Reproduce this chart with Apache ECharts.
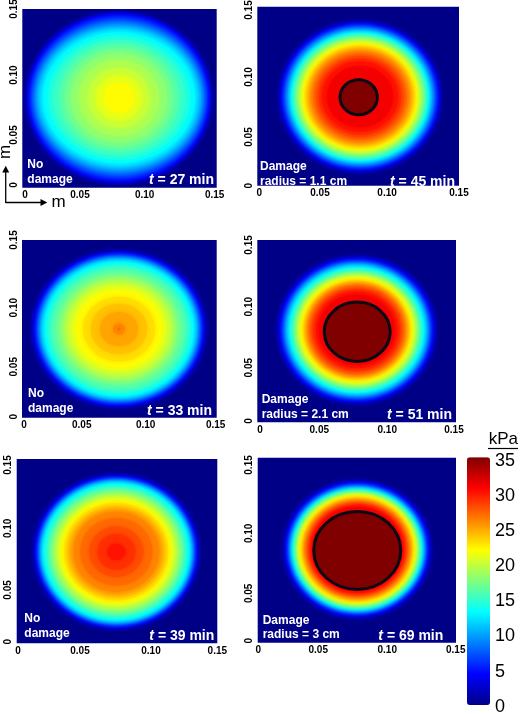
<!DOCTYPE html>
<html><head><meta charset="utf-8"><style>html,body{margin:0;padding:0;background:#fff}#c{width:520px;height:714px}</style>
<script src="https://cdn.jsdelivr.net/npm/echarts@6/dist/echarts.min.js"></script></head>
<body><div id="c"></div>
<script>
// Contour half-widths/half-heights in mm; entry i is the contour of (i+1) kPa.
const rx1=[71.8,71,70.3,69.5,68.7,67.9,66.8,65.6,64.5,63.3,62.1,60.2,58.7,54.8,51,46.3,41.7,37.1,30.9,23.9,17.8,11.6];
const ry1=[72.2,71.4,70.6,69.7,68.9,67.2,65.5,63.8,62.2,60.5,58.8,57.1,55,52.1,48.7,45.4,41.6,37.4,31.9,25.2,18.9,12.6];
const rx2=[61,59.9,58.7,58,57.2,56.5,55.8,55,53.9,53.2,52.4,51.7,50.9,49.8,49.1,48.3,47.2,46.1,45,43.9,43.1,42,40.9,39.4,37.9,36.4,34.6,32.7,30.5,28.3,24.5];
const ry2=[63.9,62.8,61.6,60.8,60,59.2,58.5,57.7,56.5,55.7,55,54.2,53.4,52.2,51.4,50.7,49.5,48.3,47.2,46,45.2,44,42.9,41.3,39.8,38.2,36.2,34.3,32,29.6,25.7];
const rx3=[67.8,66.6,65.5,64.7,63.9,63.2,62.4,61.6,60.9,60.1,59.3,58.4,57.4,55.5,53.5,51.2,47.8,44.7,42.4,39.7,36.6,33.1,27.7,21.6,14.6,4.6,1.2];
const ry3=[66.8,65.7,64.6,63.8,63,62.3,61.5,60.8,60,59.2,58.5,57.6,56.6,54.7,52.8,50.5,47.1,44.1,41.8,39.1,36.1,32.7,27.3,21.3,14.4,4.7,1.2];
const rx4=[60.4,59.2,58.5,57.4,56.6,55.8,55.1,54.3,53.6,52.8,52.1,51.3,50.6,49.4,48.3,47.5,46.4,45.3,44.5,43.8,42.6,41.5,40.4,39.2,38.1,37,35.8,34.3,32.8,30.9,28.7];
const ry4=[61.2,60.1,59.3,58.2,57.4,56.6,55.9,55.1,54.3,53.6,52.8,52,51.3,50.1,49,48.2,47.1,45.9,45.2,44.4,43.2,42.1,40.9,39.8,38.7,37.5,36.4,34.8,33.3,31.4,29.1];
const rx5=[62.5,61.3,60.6,59.8,59.1,58.5,57.9,57.3,56.7,56.1,55.7,55,54.4,53.1,51.6,50.1,49,47.5,45.6,44.1,42.6,40.8,38.9,36.7,34.4,32.2,26.9,20.2,14.2,6.7];
const ry5=[63.5,62.4,61.6,60.9,60.1,59.5,58.9,58.3,57.7,57.1,56.6,56,55.3,54,52.5,51,49.8,48.3,46.4,44.9,43.4,41.5,39.6,37.3,35,32.7,27.4,20.5,14.5,6.8];
const rx6=[56.4,55.2,54.5,53.7,52.9,52.2,51.4,50.9,50.4,49.9,49.5,48.9,48.4,47.8,47.3,46.5,46,45.4,44.8,44.2,43.6,43.1,42.2,41.3,40.4,39.3,38.4,37.4,36.3,35.3,34.4];
const ry6=[56.2,55.1,54.3,53.6,52.8,52,51.3,50.8,50.2,49.8,49.3,48.8,48.3,47.7,47.1,46.4,45.9,45.3,44.7,44.1,43.5,43,42.1,41.2,40.3,39.2,38.2,37.3,36.2,35.2,34.3];
const contourCentres=[[74.6,75.4],[76.4,74.6],[74.7,74.9],[75.0,76.0],[74.5,74.5],[75.3,75.8]];
const damageEllipses=[null,[75.4,74.1,13.9,14.7],null,[75.4,74.5,24.9,24.4],null,[75.3,74.8,32.9,31.6]];
const damageKPa=35;
const tickLabels=['0','0.05','0.10','0.15'];
const colorbarTicks=[0,5,10,15,20,25,30,35];
const times=['27','45','33','51','39','69'];
const notes=[['No','damage'],['Damage','radius = 1.1 cm'],['No','damage'],['Damage','radius = 2.1 cm'],['No','damage'],['Damage','radius = 3 cm']];
const xLabelSpots=[[.0021,.0445,.0944,.1484],[.0015,.0466,.0965,.15],[.0015,.046,.0953,.1492],[.002,.0468,.0981,.1485],[.001,.0473,.1004,.15],[.0005,.0458,.098,.1498]];
const yLabelSpots=[[.0023,.0442,.0945,.15],[0,.0408,.0911,.1472],[.0008,.043,.0929,.15],[.0011,.0449,.0951,.1459],[.0013,.0434,.0936,.1451],[.0016,.04,.0887,.1441]];
const jet=['#000087','#0000ff','#007fff','#00ffff','#7fff7f','#ffff00','#ff7f00','#ff0000','#800000'];

const rxs=[rx1,rx2,rx3,rx4,rx5,rx6], rys=[ry1,ry2,ry3,ry4,ry5,ry6];
// left, top, width, height of each panel
const boxes=[[22.3,9,194.4,178.7],[257.3,6.7,201.7,179],[22,240,194.7,177.7],[257.3,240,198.7,182.3],[16.7,459,200.6,184.3],[257.7,457.7,198.3,185]];
// note x, note y1, note y2, t right, t y
const noteAt=[[27.3,165,180,214,180],[260,167,182,455,182],[28,394,409,212,410.7],[261.7,400,415,452,415],[24.3,619,634,214.3,635.7],[262.7,620.7,634.7,443.3,635.7]];
const FF='"Liberation Sans",Arial,sans-serif';

const grid=[],xAxis=[],yAxis=[],series=[],graphic=[];
boxes.forEach((b,i)=>{
  grid.push({left:b[0],top:b[1],width:b[2],height:b[3],show:true,backgroundColor:jet[0],borderWidth:0,outerBoundsMode:'none'});
  const lab=(spots)=>({show:true,color:'#000',fontFamily:FF,fontWeight:'bold',fontSize:10,
    formatter:(v)=>tickLabels[spots.indexOf(v)]});
  xAxis.push({type:'value',gridIndex:i,min:0,max:.15,splitLine:{show:false},axisLine:{show:false},axisTick:{show:false},
    axisLabel:Object.assign(lab(xLabelSpots[i]),{margin:3,customValues:xLabelSpots[i]})});
  yAxis.push({type:'value',gridIndex:i,min:0,max:.15,splitLine:{show:false},axisLine:{show:false},axisTick:{show:false},
    axisLabel:Object.assign(lab(yLabelSpots[i]),{rotate:90,margin:3,customValues:yLabelSpots[i]})});
  const [cx,cy]=contourCentres[i];
  const rings=rxs[i].map((r,k)=>[cx/1000,cy/1000,r/1000,rys[i][k]/1000,k+1]);
  const render=(stroke)=>function(p,api){
    const c=api.coord([api.value(0),api.value(1)]);
    const s=api.size([api.value(2),api.value(3)],[api.value(0),api.value(1)]);
    const col=api.visual('color');
    return {type:'ellipse',shape:{cx:c[0],cy:c[1],rx:s[0],ry:s[1]},
      style:stroke?{fill:col,stroke:'#0a0a14',lineWidth:3}:{fill:col,shadowColor:col,shadowBlur:4}};
  };
  const dims=['x','y','rx','ry','kPa'];
  series.push({type:'custom',xAxisIndex:i,yAxisIndex:i,dimensions:dims,encode:{x:0,y:1},data:rings,renderItem:render(false),clip:true,silent:true,animation:false,progressive:0});
  if(damageEllipses[i]){
    const d=damageEllipses[i];
    series.push({type:'custom',xAxisIndex:i,yAxisIndex:i,dimensions:dims,encode:{x:0,y:1},z:3,
      data:[[d[0]/1000,d[1]/1000,d[2]/1000,d[3]/1000,damageKPa]],renderItem:render(true),silent:true,animation:false});
  }
  const n=noteAt[i];
  const txt=(t,x,y,align)=>({type:'text',z:10,silent:true,style:{text:t,x:x,y:y,align:align,verticalAlign:'middle',fill:'#fff',font:'bold 12px '+FF}});
  graphic.push(txt(notes[i][0],n[0],n[1],'left'));
  graphic.push(txt(notes[i][1],n[0],n[2],'left'));
  graphic.push({type:'text',z:10,silent:true,style:{text:'{i|t}{b| = '+times[i]+' min}',x:n[3],y:n[4],align:'right',verticalAlign:'middle',fill:'#fff',
    rich:{i:{fill:'#fff',font:'italic bold 14px '+FF},b:{fill:'#fff',font:'bold 14px '+FF}}}});
});
// colour bar scale
grid.push({left:467,top:460.7,width:23,height:246,show:false,outerBoundsMode:'none'});
xAxis.push({type:'value',gridIndex:6,show:false,min:0,max:1});
yAxis.push({type:'value',gridIndex:6,position:'right',min:0,max:35,interval:5,splitLine:{show:false},axisLine:{show:false},axisTick:{show:false},
  axisLabel:{show:true,margin:5,color:'#000',fontFamily:FF,fontSize:18,customValues:colorbarTicks}});
// compass and unit
const blk={stroke:'#000',lineWidth:1.3};
graphic.push({type:'line',silent:true,shape:{x1:5.7,y1:203,x2:5.7,y2:170},style:blk});
graphic.push({type:'polygon',silent:true,shape:{points:[[5.7,165.7],[2.2,172.5],[9.2,172.5]]},style:{fill:'#000'}});
graphic.push({type:'line',silent:true,shape:{x1:5.7,y1:202.5,x2:43,y2:202.5},style:blk});
graphic.push({type:'polygon',silent:true,shape:{points:[[47.3,202.5],[40.5,199],[40.5,206]]},style:{fill:'#000'}});
graphic.push({type:'text',silent:true,x:5,y:152,rotation:Math.PI/2,style:{text:'m',x:0,y:0,align:'center',verticalAlign:'middle',fill:'#000',font:'17px '+FF}});
graphic.push({type:'text',silent:true,style:{text:'m',x:58.7,y:202,align:'center',verticalAlign:'middle',fill:'#000',font:'17px '+FF}});
graphic.push({type:'text',silent:true,style:{text:'kPa',x:518,y:439.5,align:'right',verticalAlign:'middle',fill:'#000',font:'17px '+FF}});
graphic.push({type:'line',silent:true,shape:{x1:488,y1:448.5,x2:518,y2:448.5},style:{stroke:'#000',lineWidth:1.2}});

echarts.init(document.getElementById('c'),null,{renderer:'canvas'}).setOption({
  animation:false,backgroundColor:'#fff',tooltip:{show:false},
  grid,xAxis,yAxis,series,graphic,
  visualMap:{type:'continuous',show:true,dimension:4,min:0,max:35,calculable:false,realtime:false,hoverLink:false,
    left:467,top:457.3,itemWidth:23,itemHeight:247.7,padding:0,text:null,showLabel:false,
    inRange:{color:jet},textStyle:{color:'transparent',fontSize:0}}
});
</script></body></html>
